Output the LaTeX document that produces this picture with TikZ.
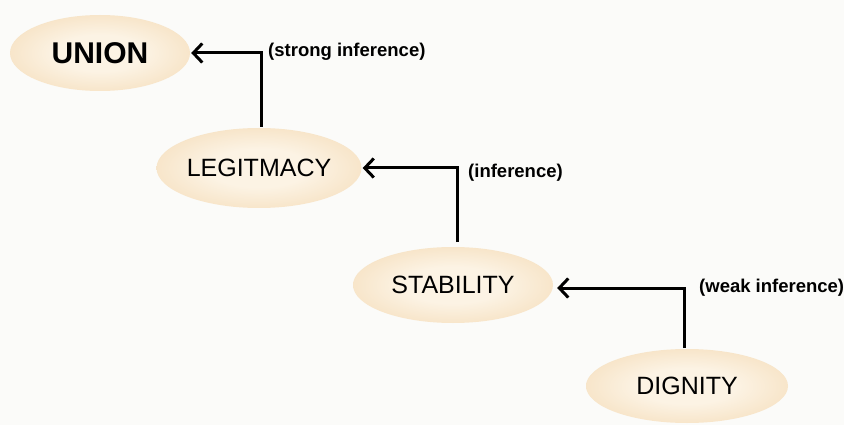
\documentclass[tikz,border=0pt]{standalone}
\usepackage{fontspec}
\setmainfont{Liberation Sans}
\usetikzlibrary{shapes.geometric,arrows.meta}
\definecolor{bgc}{RGB}{251,251,249}
\definecolor{ellin}{RGB}{252,243,228}
\definecolor{ellmid}{RGB}{245,222,188}
\definecolor{ellout}{RGB}{236,196,146}
\pgfdeclareradialshading{ellshade}{\pgfpoint{0bp}{0bp}}{color(0bp)=(ellin); color(12bp)=(ellin); color(32bp)=(ellmid); color(50bp)=(ellout); color(51bp)=(ellout)}
\tikzset{
  oval/.style={ellipse, shading=ellshade, draw=none, inner sep=0pt, font=\fontsize{25}{25}\selectfont, text=black},
  arr/.style={draw=black, line width=3pt, -{Straight Barb[length=9pt,width=19pt,line width=3pt]}},
  lbl/.style={anchor=west, font=\bfseries\fontsize{18.5}{18.5}\selectfont, inner sep=0pt, text=black}
}
\begin{document}
\begin{tikzpicture}[x=1pt,y=-1pt]
\fill[bgc] (0,0) rectangle (844,425);
\useasboundingbox (0,0) rectangle (844,425);
\node[oval, minimum width=180pt, minimum height=76pt, font=\bfseries\fontsize{30}{30}\selectfont] (union) at (100,53) {UNION};
\node[oval, minimum width=205pt, minimum height=80pt] (leg) at (259,168) {LEGITMACY};
\node[oval, minimum width=200pt, minimum height=76pt] (stab) at (453,285) {STABILITY};
\node[oval, minimum width=202pt, minimum height=74pt] (dig) at (687,386) {DIGNITY};
\coordinate (c1) at (261,127);
\coordinate (c2) at (457,242);
\coordinate (c3) at (684,348);
\draw[arr] (c1) |- ([xshift=1pt]union.east);
\draw[arr] (c2) |- ([xshift=1pt]leg.east);
\draw[arr] (c3) |- ([xshift=4pt,yshift=-3pt]stab.east);
\node[lbl] (l1) at (268,52) {(strong inference)};
\node[lbl] (l2) at (468,173) {(inference)};
\node[lbl] (l3) at (699,288) {(weak inference)};
\end{tikzpicture}
\end{document}
